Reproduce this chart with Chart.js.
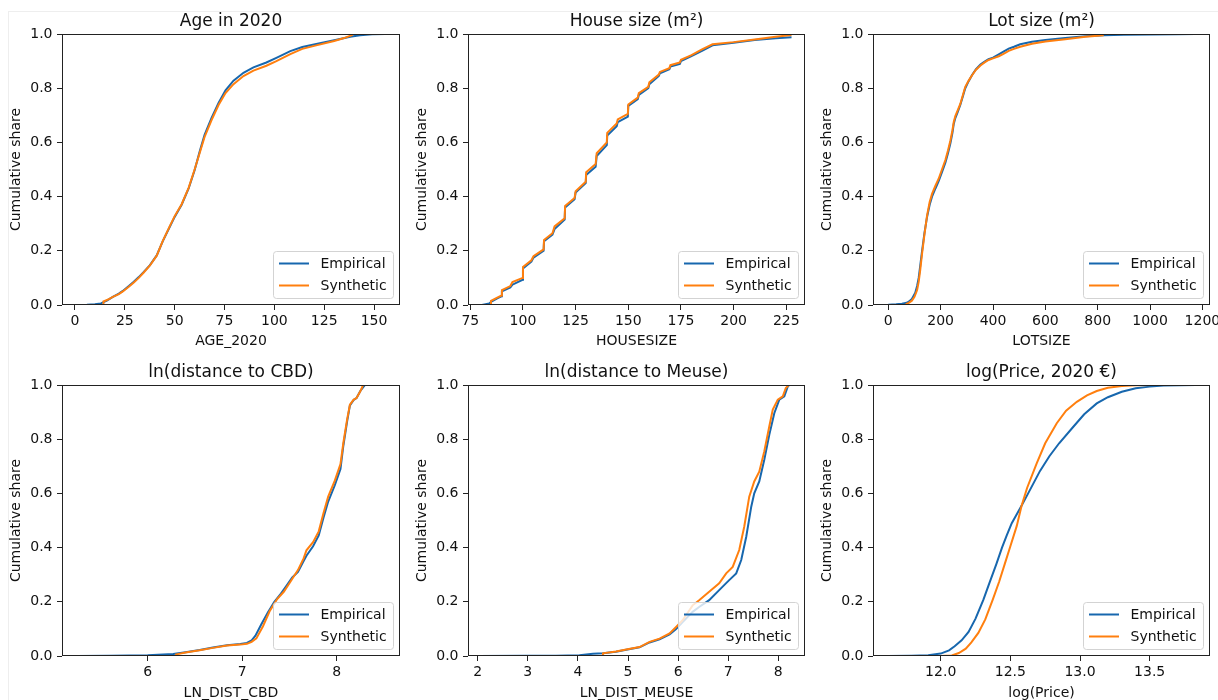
<!DOCTYPE html>
<html>
<head>
<meta charset="utf-8">
<script src="https://cdn.jsdelivr.net/npm/chart.js@4/dist/chart.umd.min.js"></script>
<style>
html,body{margin:0;padding:0;background:#fff;}
#wrap{position:relative;width:1218px;height:700px;overflow:hidden;background:#fff;}
.frame{position:absolute;left:8px;top:11px;width:1400px;height:900px;border-top:1px solid #eeeeee;border-left:1px solid #eeeeee;}
canvas{position:absolute;}
</style>
</head>
<body>
<div id="wrap"><div class="frame"></div></div>
<script>
// ---------- data ----------
const seriesNames = ['Empirical', 'Synthetic'];
const yTicks = [0, 0.2, 0.4, 0.6, 0.8, 1.0];

// Age in 2020
const ageTicks = [0, 25, 50, 75, 100, 125, 150];
const ageEmpX = [1.5, 6, 10, 13, 16, 19, 22, 24, 27, 29.5, 32, 34.5, 37.5, 41, 44, 47.5, 50, 53.5, 57, 60, 62.5, 65, 68.5, 72, 75.5, 79.5, 84.5, 89.5, 96, 101, 108, 114, 121, 130, 138, 143, 149, 155.5];
const ageEmpY = [0, 0.001, 0.003, 0.006, 0.016, 0.03, 0.042, 0.052, 0.07, 0.086, 0.103, 0.122, 0.146, 0.183, 0.235, 0.288, 0.325, 0.37, 0.43, 0.497, 0.565, 0.628, 0.69, 0.746, 0.792, 0.828, 0.857, 0.877, 0.895, 0.912, 0.937, 0.952, 0.963, 0.977, 0.99, 0.995, 0.999, 1.0];
const ageSynX = [14.2, 14.3, 17, 19, 22, 24, 27, 29.5, 32, 34.5, 37.5, 41, 44, 47.5, 50, 53.5, 57, 60, 62.5, 65, 68.5, 72, 75.5, 79.5, 84.5, 89.5, 96, 101, 108, 114, 121, 130, 135, 139.3];
const ageSynY = [0, 0.013, 0.022, 0.03, 0.04, 0.05, 0.067, 0.083, 0.1, 0.12, 0.145, 0.182, 0.236, 0.29, 0.328, 0.372, 0.432, 0.5, 0.56, 0.62, 0.682, 0.738, 0.782, 0.815, 0.845, 0.865, 0.883, 0.9, 0.926, 0.945, 0.958, 0.974, 0.985, 0.997];

// House size
const houseTicks = [75, 100, 125, 150, 175, 200, 225];
const houseEmpX = [80.5, 84, 85, 88, 89.8, 90, 94, 95, 99.8, 100, 104, 105, 109.8, 110, 114, 115, 119.8, 120, 124.5, 125, 129.8, 130, 134.5, 135, 139.8, 140, 144.5, 145, 149.8, 150, 154.5, 155, 159.5, 160, 164.5, 165, 169.5, 170, 174.5, 175, 180, 185, 190, 200, 210, 220, 227.5];
const houseEmpY = [0, 0.006, 0.012, 0.025, 0.032, 0.05, 0.065, 0.075, 0.093, 0.135, 0.16, 0.175, 0.2, 0.235, 0.26, 0.28, 0.315, 0.36, 0.39, 0.415, 0.45, 0.48, 0.51, 0.55, 0.59, 0.625, 0.66, 0.675, 0.695, 0.735, 0.76, 0.775, 0.8, 0.815, 0.845, 0.855, 0.87, 0.88, 0.89, 0.9, 0.918, 0.938, 0.958, 0.968, 0.978, 0.984, 0.988];
const houseSynX = [84.8, 84.8, 88, 89.8, 90, 94, 95, 99.8, 100, 104, 105, 109.8, 110, 114, 115, 119.8, 120, 124.5, 125, 129.8, 130, 134.5, 135, 139.8, 140, 144.5, 145, 149.8, 150, 154.5, 155, 159.5, 160, 164.5, 165, 169.5, 170, 174.5, 175, 180, 185, 190, 200, 210, 220, 227.5];
const houseSynY = [0, 0.015, 0.028, 0.035, 0.055, 0.07, 0.085, 0.1, 0.14, 0.165, 0.18, 0.205, 0.24, 0.265, 0.29, 0.32, 0.365, 0.395, 0.42, 0.455, 0.49, 0.52, 0.56, 0.6, 0.635, 0.67, 0.685, 0.705, 0.74, 0.765, 0.782, 0.805, 0.822, 0.85, 0.86, 0.874, 0.885, 0.895, 0.905, 0.922, 0.943, 0.962, 0.97, 0.98, 0.99, 0.996];

// Lot size
const lotTicks = [0, 200, 400, 600, 800, 1000, 1200];
const lotEmpX = [0, 30, 52, 70, 78, 90, 103, 110, 116, 122, 129, 138, 148, 158, 167, 180, 192, 205, 218, 228, 237, 245, 250, 256, 265, 275, 285, 294, 307, 320, 335, 352, 368, 383, 400, 422, 440, 460, 480, 504, 549, 600, 676, 753, 823, 900, 1000, 1100, 1173];
const lotEmpY = [0.001, 0.003, 0.005, 0.008, 0.012, 0.022, 0.045, 0.07, 0.1, 0.145, 0.2, 0.265, 0.325, 0.37, 0.4, 0.43, 0.456, 0.49, 0.525, 0.56, 0.596, 0.635, 0.668, 0.69, 0.712, 0.738, 0.77, 0.8, 0.826, 0.849, 0.87, 0.887, 0.898, 0.907, 0.913, 0.925, 0.935, 0.946, 0.953, 0.962, 0.971, 0.978, 0.985, 0.992, 0.995, 0.997, 0.998, 0.999, 1.0];
const lotSynX = [65, 70, 78, 90, 100, 110, 116, 122, 129, 138, 148, 158, 167, 180, 192, 205, 218, 228, 237, 245, 250, 256, 265, 275, 285, 294, 307, 320, 335, 352, 368, 383, 400, 422, 440, 460, 480, 504, 549, 600, 676, 753, 823];
const lotSynY = [0, 0.004, 0.008, 0.016, 0.03, 0.055, 0.085, 0.13, 0.19, 0.26, 0.33, 0.38, 0.41, 0.44, 0.465, 0.5, 0.535, 0.57, 0.606, 0.645, 0.675, 0.697, 0.718, 0.742, 0.775, 0.805, 0.828, 0.848, 0.868, 0.884, 0.895, 0.904, 0.91, 0.918, 0.927, 0.938, 0.945, 0.953, 0.964, 0.972, 0.981, 0.99, 0.995];

// ln(distance to CBD)
const cbdTicks = [6, 7, 8];
const cbdEmpX = [5.25, 5.6, 6.0, 6.27, 6.4, 6.55, 6.69, 6.84, 6.98, 7.05, 7.1, 7.14, 7.2, 7.27, 7.34, 7.41, 7.47, 7.53, 7.59, 7.65, 7.68, 7.75, 7.81, 7.86, 7.91, 7.98, 8.04, 8.07, 8.11, 8.14, 8.18, 8.21, 8.25, 8.3, 8.4, 8.51];
const cbdEmpY = [0, 0.001, 0.003, 0.007, 0.014, 0.022, 0.031, 0.04, 0.044, 0.048, 0.058, 0.075, 0.115, 0.16, 0.2, 0.23, 0.26, 0.29, 0.31, 0.35, 0.37, 0.405, 0.445, 0.51, 0.57, 0.63, 0.69, 0.775, 0.865, 0.925, 0.945, 0.952, 0.978, 1.0, 1.0, 1.0];
const cbdSynX = [6.29, 6.4, 6.55, 6.69, 6.84, 6.98, 7.05, 7.1, 7.15, 7.22, 7.29, 7.37, 7.44, 7.51, 7.59, 7.65, 7.68, 7.75, 7.81, 7.86, 7.91, 7.98, 8.04, 8.07, 8.11, 8.14, 8.18, 8.21, 8.25, 8.28];
const cbdSynY = [0.005, 0.013, 0.021, 0.03, 0.039, 0.042, 0.045, 0.052, 0.065, 0.11, 0.165, 0.21, 0.237, 0.274, 0.317, 0.36, 0.39, 0.42, 0.46, 0.527, 0.588, 0.647, 0.708, 0.785, 0.872, 0.927, 0.946, 0.952, 0.977, 1.0];

// ln(distance to Meuse)
const meuseTicks = [2, 3, 4, 5, 6, 7, 8];
const meuseEmpX = [2.0, 3.0, 3.56, 4.03, 4.3, 4.5, 4.76, 4.99, 5.23, 5.43, 5.63, 5.83, 5.96, 6.09, 6.29, 6.42, 6.62, 6.82, 7.02, 7.16, 7.26, 7.36, 7.46, 7.52, 7.62, 7.72, 7.82, 7.92, 8.02, 8.12, 8.19, 8.22];
const meuseEmpY = [0, 0.0005, 0.001, 0.003, 0.008, 0.01, 0.016, 0.024, 0.032, 0.05, 0.062, 0.08, 0.1, 0.125, 0.163, 0.181, 0.206, 0.243, 0.28, 0.305, 0.354, 0.44, 0.551, 0.6, 0.644, 0.724, 0.816, 0.896, 0.946, 0.958, 0.995, 1.0];
const meuseSynX = [4.5, 4.5, 4.76, 4.99, 5.23, 5.43, 5.63, 5.83, 5.96, 6.09, 6.29, 6.42, 6.62, 6.82, 6.96, 7.09, 7.22, 7.32, 7.42, 7.52, 7.62, 7.72, 7.82, 7.89, 7.99, 8.09, 8.15, 8.21];
const meuseSynY = [0, 0.01, 0.017, 0.025, 0.033, 0.052, 0.064, 0.083, 0.107, 0.132, 0.187, 0.206, 0.237, 0.268, 0.305, 0.329, 0.391, 0.477, 0.588, 0.644, 0.68, 0.755, 0.847, 0.909, 0.946, 0.958, 0.989, 1.0];

// log(Price)
const priceTicks = [12.0, 12.5, 13.0, 13.5];
const priceEmpX = [11.615, 11.79, 11.91, 12.0, 12.06, 12.1, 12.15, 12.2, 12.25, 12.306, 12.35, 12.4, 12.44, 12.474, 12.51, 12.55, 12.581, 12.64, 12.713, 12.78, 12.85, 12.952, 13.03, 13.12, 13.2, 13.3, 13.4, 13.5, 13.6, 13.83];
const priceEmpY = [0, 0.001, 0.003, 0.009, 0.021, 0.036, 0.058, 0.089, 0.138, 0.207, 0.27, 0.34, 0.4, 0.445, 0.49, 0.527, 0.555, 0.612, 0.683, 0.737, 0.785, 0.846, 0.892, 0.932, 0.955, 0.975, 0.988, 0.994, 0.998, 1.0];
const priceSynX = [12.0, 12.08, 12.13, 12.18, 12.22, 12.27, 12.32, 12.373, 12.42, 12.46, 12.5, 12.546, 12.581, 12.62, 12.689, 12.75, 12.833, 12.9, 12.977, 13.05, 13.12, 13.2, 13.3, 13.4, 13.52];
const priceSynY = [0, 0.002, 0.011, 0.027, 0.05, 0.085, 0.135, 0.207, 0.275, 0.34, 0.405, 0.48, 0.555, 0.62, 0.711, 0.785, 0.859, 0.905, 0.938, 0.962, 0.978, 0.99, 0.996, 0.999, 1.0];

// ---------- layout / style ----------
const COLORS = ['#1767ae', '#ff7f0e'];
const TXT = '#111111';
Chart.defaults.font.family = '"DejaVu Sans", sans-serif';
Chart.defaults.font.size = 14;
Chart.defaults.color = TXT;

const panels = [
  {title: 'Age in 2020', xlabel: 'AGE_2020', ex: ageEmpX, ey: ageEmpY, sx: ageSynX, sy: ageSynY, ticks: ageTicks, min: -6.5, max: 163, dec: 0, left: 0, top: 0, w: 406, pr: 6},
  {title: 'House size (m²)', xlabel: 'HOUSESIZE', ex: houseEmpX, ey: houseEmpY, sx: houseSynX, sy: houseSynY, ticks: houseTicks, min: 73.9, max: 233.9, dec: 0, left: 406, top: 0, w: 405, pr: 6},
  {title: 'Lot size (m²)', xlabel: 'LOTSIZE', ex: lotEmpX, ey: lotEmpY, sx: lotSynX, sy: lotSynY, ticks: lotTicks, min: -58.5, max: 1229, dec: 0, left: 811, top: 0, w: 407, pr: 8},
  {title: 'ln(distance to CBD)', xlabel: 'LN_DIST_CBD', ex: cbdEmpX, ey: cbdEmpY, sx: cbdSynX, sy: cbdSynY, ticks: cbdTicks, min: 5.093, max: 8.67, dec: 0, left: 0, top: 350, w: 406, pr: 6},
  {title: 'ln(distance to Meuse)', xlabel: 'LN_DIST_MEUSE', ex: meuseEmpX, ey: meuseEmpY, sx: meuseSynX, sy: meuseSynY, ticks: meuseTicks, min: 1.806, max: 8.533, dec: 0, left: 406, top: 350, w: 405, pr: 6},
  {title: 'log(Price, 2020 €)', xlabel: 'log(Price)', ex: priceEmpX, ey: priceEmpY, sx: priceSynX, sy: priceSynY, ticks: priceTicks, min: 11.514, max: 13.933, dec: 1, left: 811, top: 350, w: 407, pr: 8}
];

const framePlugin = {
  id: 'frame',
  afterDatasetsDraw(chart) {
    const {ctx, chartArea: a} = chart;
    const l = Math.round(a.left), t = Math.round(a.top), r = Math.round(a.right), b = Math.round(a.bottom);
    ctx.save();
    ctx.strokeStyle = '#222';
    ctx.lineWidth = 1;
    ctx.strokeRect(l + 0.5, t + 0.5, r - l - 1, b - t - 1);
    ctx.restore();
  }
};

const legendPlugin = {
  id: 'mplLegend',
  afterDraw(chart) {
    const {ctx, chartArea: a} = chart;
    const w = 120, h = 47;
    const x0 = a.right - 7 - w, y0 = a.bottom - 7 - h;
    ctx.save();
    ctx.beginPath();
    ctx.roundRect(x0 + 0.5, y0 + 0.5, w, h, 3);
    ctx.fillStyle = 'rgba(255,255,255,0.8)';
    ctx.fill();
    ctx.strokeStyle = '#d3d3d3';
    ctx.lineWidth = 1;
    ctx.stroke();
    ctx.font = '14px "DejaVu Sans", sans-serif';
    ctx.textBaseline = 'middle';
    ctx.textAlign = 'left';
    seriesNames.forEach((name, i) => {
      const yy = y0 + 12.5 + i * 22;
      ctx.beginPath();
      ctx.strokeStyle = COLORS[i];
      ctx.lineWidth = 2;
      ctx.moveTo(x0 + 6, yy);
      ctx.lineTo(x0 + 36, yy);
      ctx.stroke();
      ctx.fillStyle = TXT;
      ctx.fillText(name, x0 + 47.5, yy + 0.5);
    });
    ctx.restore();
  }
};

const wrap = document.getElementById('wrap');
panels.forEach((p) => {
  const row2 = p.top > 0;
  const cv = document.createElement('canvas');
  cv.width = p.w; cv.height = 350;
  cv.style.left = p.left + 'px'; cv.style.top = p.top + 'px';
  cv.style.width = p.w + 'px'; cv.style.height = '350px';
  wrap.appendChild(cv);
  const pts = (xs, ys) => xs.map((x, i) => ({x: x, y: ys[i]}));
  new Chart(cv, {
    type: 'line',
    data: {
      datasets: [
        {label: seriesNames[0], data: pts(p.ex, p.ey), borderColor: COLORS[0], borderWidth: 2, pointRadius: 0, tension: 0, fill: false, order: 2},
        {label: seriesNames[1], data: pts(p.sx, p.sy), borderColor: COLORS[1], borderWidth: 2, pointRadius: 0, tension: 0, fill: false, order: 1}
      ]
    },
    options: {
      responsive: false,
      animation: false,
      events: [],
      devicePixelRatio: 1,
      layout: {padding: {left: 0, top: 0, right: p.pr, bottom: 0}},
      plugins: {
        legend: {display: false},
        tooltip: {enabled: false},
        title: {
          display: true, text: p.title, fullSize: false, color: TXT,
          font: {size: 17, weight: 'normal', lineHeight: 1.2},
          padding: row2 ? {top: 12.5, bottom: 2.1} : {top: 11, bottom: 2.6}
        }
      },
      scales: {
        x: {
          type: 'linear', min: p.min, max: p.max,
          afterBuildTicks: s => { s.ticks = p.ticks.map(v => ({value: v})); },
          afterFit: s => { s.height = row2 ? 44 : 45; s.paddingLeft = 0; s.paddingRight = 0; },
          ticks: {autoSkip: false, maxRotation: 0, minRotation: 0, padding: 3, color: TXT, font: {size: 14},
                  callback: v => Number(v).toFixed(p.dec)},
          grid: {display: true, drawOnChartArea: false, drawTicks: true, tickLength: 5, color: '#222', tickColor: '#222', tickWidth: 1},
          border: {display: false},
          title: {display: true, text: p.xlabel, color: TXT, font: {size: 14}, padding: {top: 0, bottom: row2 ? -1.5 : 0}}
        },
        y: {
          type: 'linear', min: 0, max: 1,
          afterBuildTicks: s => { s.ticks = yTicks.map(v => ({value: v})); },
          afterFit: s => { s.width = 62; s.paddingTop = 0; s.paddingBottom = 0; },
          ticks: {autoSkip: false, padding: 4.5, color: TXT, font: {size: 14}, callback: v => Number(v).toFixed(1)},
          grid: {display: true, drawOnChartArea: false, drawTicks: true, tickLength: 5, color: '#222', tickColor: '#222', tickWidth: 1},
          border: {display: false},
          title: {display: true, text: 'Cumulative share', color: TXT, font: {size: 14}, padding: {top: 7.6, bottom: 0}}
        }
      }
    },
    plugins: [framePlugin, legendPlugin]
  });
});
</script>
</body>
</html>
